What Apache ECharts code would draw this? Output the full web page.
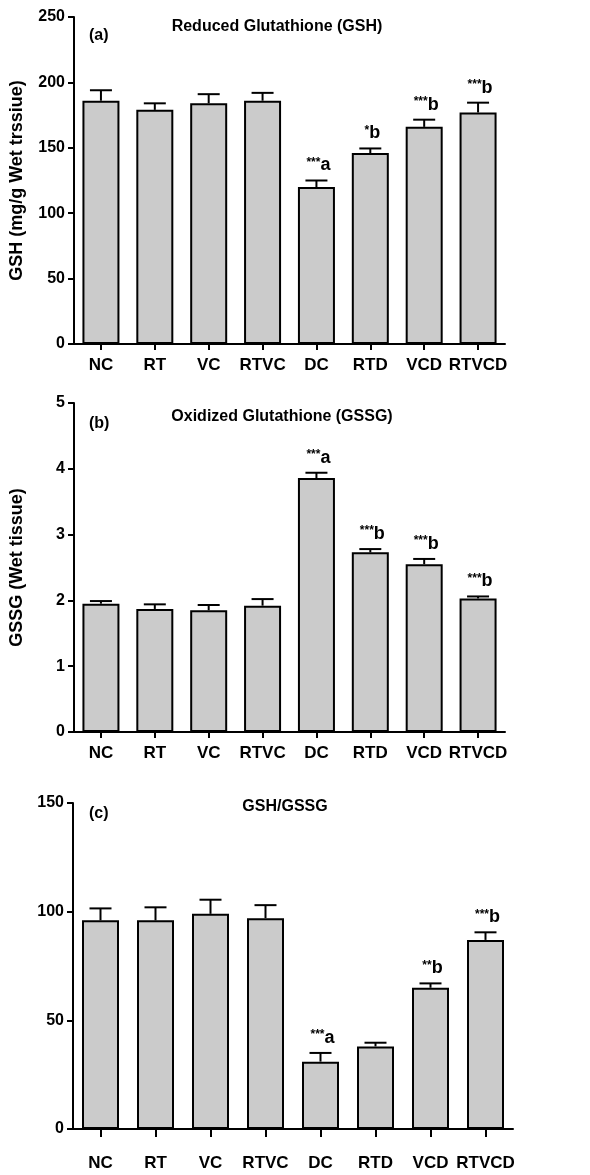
<!DOCTYPE html>
<html><head><meta charset="utf-8">
<script src="https://cdn.jsdelivr.net/npm/echarts@6/dist/echarts.min.js"></script>
<style>html,body{margin:0;padding:0;background:#fff}#c{width:590px;height:1175px}</style>
</head><body><div id="c"></div>
<script>
var categories = ['NC','RT','VC','RTVC','DC','RTD','VCD','RTVCD'];
var gshValues = [186, 179, 184, 186, 120, 146, 166, 177];
var gshErrors = [8, 5, 7, 6, 5, 3.5, 5.5, 7.5];
var gshSig = ['', '', '', '', '***a', '*b', '***b', '***b'];
var gssgValues = [1.95, 1.87, 1.85, 1.92, 3.86, 2.73, 2.55, 2.03];
var gssgErrors = [0.04, 0.07, 0.08, 0.10, 0.08, 0.05, 0.08, 0.03];
var gssgSig = ['', '', '', '', '***a', '***b', '***b', '***b'];
var ratioValues = [96, 96, 99, 97, 31, 38, 65, 87];
var ratioErrors = [5.5, 6, 6.5, 6, 4, 1.7, 2, 3.5];
var ratioSig = ['', '', '', '', '***a', '', '**b', '***b'];
var gshTicks = [0, 50, 100, 150, 200, 250];
var gssgTicks = [0, 1, 2, 3, 4, 5];
var ratioTicks = [0, 50, 100, 150];

var FONT = 'Liberation Sans, Arial, sans-serif';
var chart = echarts.init(document.getElementById('c'));

var grids = [
  {left: 73, top: 17, width: 432, height: 327},
  {left: 73, top: 403, width: 432, height: 329},
  {left: 73, top: 803, width: 440, height: 326}
];
var panels = [
  {vals: gshValues, errs: gshErrors, sig: gshSig, ticks: gshTicks, name: 'GSH (mg/g Wet trssiue)', margin: 13},
  {vals: gssgValues, errs: gssgErrors, sig: gssgSig, ticks: gssgTicks, name: 'GSSG (Wet tissue)', margin: 13},
  {vals: ratioValues, errs: ratioErrors, sig: ratioSig, ticks: ratioTicks, name: '', margin: 26}
];

var xAxes = [], yAxes = [], series = [];
panels.forEach(function (p, i) {
  xAxes.push({
    type: 'category', gridIndex: i, data: categories,
    axisLine: {lineStyle: {color: '#000', width: 2}},
    axisTick: {show: true, alignWithLabel: true, length: i === 2 ? 8 : 6, lineStyle: {color: '#000', width: 2}},
    axisLabel: {color: '#000', fontFamily: FONT, fontWeight: 'bold', fontSize: 17, margin: p.margin, interval: 0}
  });
  var tk = p.ticks;
  yAxes.push({
    type: 'value', gridIndex: i, min: tk[0], max: tk[tk.length - 1], interval: tk[1] - tk[0],
    splitLine: {show: false},
    axisLine: {show: true, lineStyle: {color: '#000', width: 2}},
    axisTick: {show: true, length: 6, lineStyle: {color: '#000', width: 2}},
    axisLabel: {color: '#000', fontFamily: FONT, fontWeight: 'bold', fontSize: 16, margin: 9},
    name: p.name, nameLocation: 'middle', nameGap: 48, nameRotate: 90,
    nameTextStyle: {color: '#000', fontFamily: FONT, fontWeight: 'bold', fontSize: 18}
  });
  series.push({
    type: 'bar', xAxisIndex: i, yAxisIndex: i, data: p.vals, barWidth: 37, z: 2,
    itemStyle: {color: '#cbcbcb', borderColor: '#000', borderWidth: 2}
  });
  var errData = p.vals.map(function (v, k) { return [k, v, v + p.errs[k], p.sig[k]]; });
  series.push({
    type: 'custom', xAxisIndex: i, yAxisIndex: i, data: errData, z: 1,
    renderItem: function (params, api) {
      var base = api.coord([api.value(0), api.value(1)]);
      var top = api.coord([api.value(0), api.value(2)]);
      var s = errData[params.dataIndex][3];
      var children = [
        {type: 'line', shape: {x1: base[0], y1: base[1], x2: top[0], y2: top[1]}, style: {stroke: '#000', lineWidth: 2}},
        {type: 'line', shape: {x1: top[0] - 11, y1: top[1], x2: top[0] + 11, y2: top[1]}, style: {stroke: '#000', lineWidth: 2}}
      ];
      if (s) {
        var m = s.match(/^(\*+)(.*)$/);
        children.push({
          type: 'text', x: top[0] + 2, y: top[1] - 6,
          style: {
            text: '{s|' + m[1] + '}{l|' + m[2] + '}',
            align: 'center', verticalAlign: 'bottom',
            rich: {
              s: {fontSize: 12, fontWeight: 'bold', fontFamily: FONT, fill: '#000', verticalAlign: 'top', padding: [0, 0, 6, 0]},
              l: {fontSize: 18, fontWeight: 'bold', fontFamily: FONT, fill: '#000'}
            }
          }
        });
      }
      return {type: 'group', children: children};
    }
  });
});

var titleStyle = {color: '#000', fontFamily: FONT, fontWeight: 'bold', fontSize: 16};
chart.setOption({
  animation: false,
  grid: grids,
  xAxis: xAxes,
  yAxis: yAxes,
  series: series,
  title: [
    {text: 'Reduced Glutathione (GSH)', left: 272, top: 14, textAlign: 'center', textStyle: titleStyle},
    {text: '(a)', left: 84, top: 23, textStyle: titleStyle},
    {text: 'Oxidized Glutathione (GSSG)', left: 277, top: 404, textAlign: 'center', textStyle: titleStyle},
    {text: '(b)', left: 84, top: 411, textStyle: titleStyle},
    {text: 'GSH/GSSG', left: 280, top: 794, textAlign: 'center', textStyle: titleStyle},
    {text: '(c)', left: 84, top: 801, textStyle: titleStyle}
  ]
});
</script></body></html>
